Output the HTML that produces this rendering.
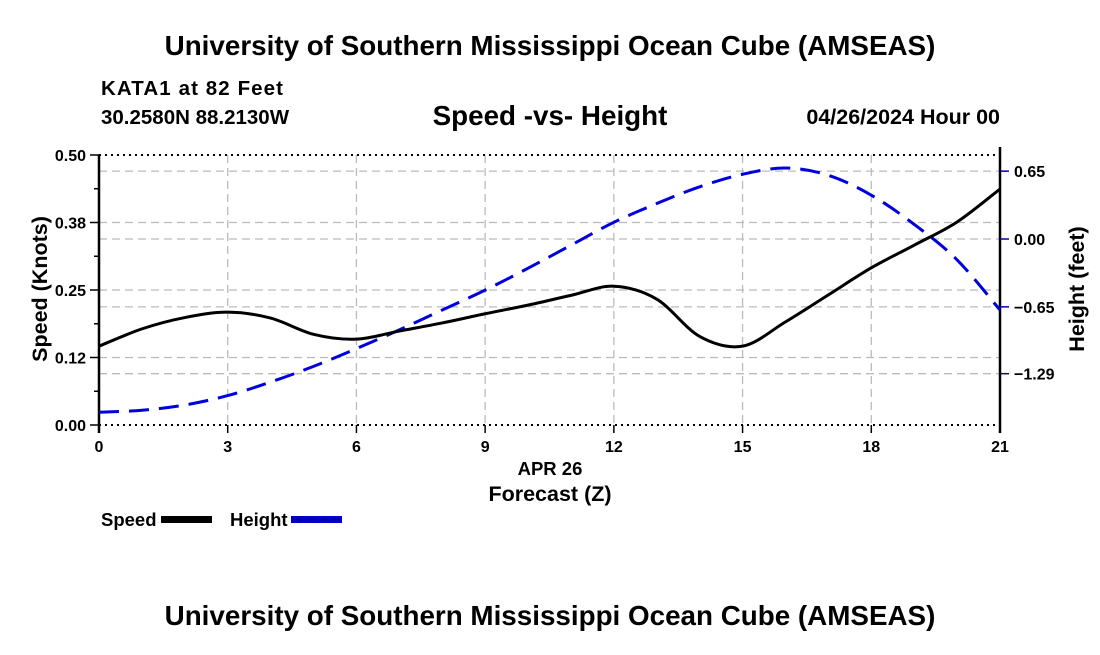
<!DOCTYPE html>
<html><head><meta charset="utf-8"><style>
body{margin:0;background:#fff;}
svg text{font-family:"Liberation Sans",sans-serif;font-weight:bold;fill:#000;}
</style></head><body>
<svg id="c" width="1100" height="650" xmlns="http://www.w3.org/2000/svg">
<text x="550" y="55" font-size="27.8" text-anchor="middle">University of Southern Mississippi Ocean Cube (AMSEAS)</text>
<text x="101" y="95" font-size="20.5" textLength="182">KATA1 at 82 Feet</text>
<text x="101" y="124" font-size="20.5">30.2580N  88.2130W</text>
<text x="550" y="125" font-size="27.8" text-anchor="middle">Speed -vs- Height</text>
<text x="1000" y="124" font-size="21.5" text-anchor="end">04/26/2024 Hour 00</text>
<g id="grid"></g><g id="axes"></g><g id="series"></g>
<text x="550" y="475" font-size="18.5" text-anchor="middle">APR 26</text>
<text x="550" y="501" font-size="21.5" text-anchor="middle">Forecast (Z)</text>
<text transform="translate(47,289) rotate(-90)" font-size="21.5" text-anchor="middle">Speed (Knots)</text>
<text transform="translate(1084,289) rotate(-90)" font-size="21.5" text-anchor="middle">Height (feet)</text>
<g>
<text x="101" y="526" font-size="18.5">Speed</text>
<rect x="161" y="516" width="51" height="7" fill="#000"/>
<text x="230" y="526" font-size="18.5">Height</text>
<rect x="291" y="516" width="51" height="7" fill="#0000cc"/>
<line x1="294" y1="519.5" x2="340" y2="519.5" stroke="#000080" stroke-width="1.5" stroke-dasharray="8,5"/>
</g>
<text x="550" y="625" font-size="27.8" text-anchor="middle">University of Southern Mississippi Ocean Cube (AMSEAS)</text>
</svg>
<script>
const hours=[0,1,2,3,4,5,6,7,8,9,10,11,12,13,14,15,16,17,18,19,20,21];
const speed=[0.146,0.178,0.199,0.209,0.198,0.168,0.159,0.174,0.189,0.206,0.222,0.240,0.257,0.233,0.164,0.146,0.191,0.241,0.291,0.333,0.376,0.437];
const height=[-1.66,-1.64,-1.59,-1.50,-1.37,-1.22,-1.05,-0.87,-0.68,-0.49,-0.28,-0.06,0.16,0.34,0.50,0.62,0.68,0.61,0.42,0.14,-0.20,-0.68];
const xTicks=[0,3,6,9,12,15,18,21];
const leftTicks=[0,0.125,0.25,0.375,0.5];
const leftLabels=["0.00","0.12","0.25","0.38","0.50"];
const rightTicks=[0.65,0,-0.65,-1.29];
const rightLabels=["0.65","0.00","\u22120.65","\u22121.29"];
const X0=99,X1=1000,Y0=155,Y1=425;
const xs=h=>X0+(h/21)*(X1-X0);
const ys=v=>Y1-(v/0.5)*(Y1-Y0);
const yh=v=>239-v*104.4;
const NS="http://www.w3.org/2000/svg";
function mk(t,a,p){const e=document.createElementNS(NS,t);for(const k in a)e.setAttribute(k,a[k]);p.appendChild(e);return e;}
const grid=document.getElementById('grid'),axes=document.getElementById('axes'),ser=document.getElementById('series');
const gs={stroke:"#bbb","stroke-width":1.3,"stroke-dasharray":"8,5"};
xTicks.forEach(t=>{if(t>0&&t<21){const l=mk('line',Object.assign({x1:xs(t),x2:xs(t),y1:Y0,y2:Y1},gs),grid);

}});
leftTicks.forEach(t=>{if(t>0&&t<0.5){const l=mk('line',Object.assign({x1:X0,x2:X1,y1:ys(t),y2:ys(t)},gs),grid);

}});
rightTicks.forEach(t=>{const l=mk('line',Object.assign({x1:X0,x2:X1,y1:yh(t),y2:yh(t)},gs),grid);

});
[Y0,Y1].forEach(y=>{const l=mk('line',{x1:X0,x2:X1,y1:y,y2:y,stroke:"#000","stroke-width":2,"stroke-dasharray":"2,4"},axes);

});
let la=mk('line',{x1:X0,x2:X0,y1:Y0,y2:Y1+8,stroke:"#000","stroke-width":2.5},axes);


let ra=mk('line',{x1:X1,x2:X1,y1:Y0-8,y2:Y1+8,stroke:"#000","stroke-width":2.5},axes);


xTicks.forEach(t=>{mk('line',{x1:xs(t),x2:xs(t),y1:Y1,y2:Y1+8,stroke:"#000","stroke-width":1.5},axes);
const tx=mk('text',{x:xs(t),y:Y1+27,"font-size":16,"text-anchor":"middle"},axes);tx.textContent=t;

});
for(let i=0;i<=8;i++){const v=i*0.0625;mk('line',{x1:X0-(i%2?5:9),x2:X0,y1:ys(v),y2:ys(v),stroke:"#000","stroke-width":1.5},axes);}
leftTicks.forEach((t,i)=>{const tx=mk('text',{x:X0-13,y:ys(t)+6,"font-size":16,"text-anchor":"end"},axes);tx.textContent=leftLabels[i];

});
rightTicks.forEach((t,i)=>{mk('line',{x1:X1,x2:X1+9,y1:yh(t),y2:yh(t),stroke:"#0000aa","stroke-width":1.5},axes);
const tx=mk('text',{x:X1+14,y:yh(t)+6,"font-size":16},axes);tx.textContent=rightLabels[i];

});
function smooth(pts){let d=`M${pts[0][0]},${pts[0][1]}`;for(let i=0;i<pts.length-1;i++){const p0=pts[i-1]||pts[i],p1=pts[i],p2=pts[i+1],p3=pts[i+2]||p2;
d+=` C${p1[0]+(p2[0]-p0[0])/6},${p1[1]+(p2[1]-p0[1])/6} ${p2[0]-(p3[0]-p1[0])/6},${p2[1]-(p3[1]-p1[1])/6} ${p2[0]},${p2[1]}`;}return d;}
const hp=mk('path',{d:smooth(hours.map((h,i)=>[xs(h),yh(height[i])])),fill:"none",stroke:"#0000dd","stroke-width":3,"stroke-dasharray":"20,10"},ser);


const sp=mk('path',{d:smooth(hours.map((h,i)=>[xs(h),ys(speed[i])])),fill:"none",stroke:"#000","stroke-width":3},ser);


</script>
</body></html>
